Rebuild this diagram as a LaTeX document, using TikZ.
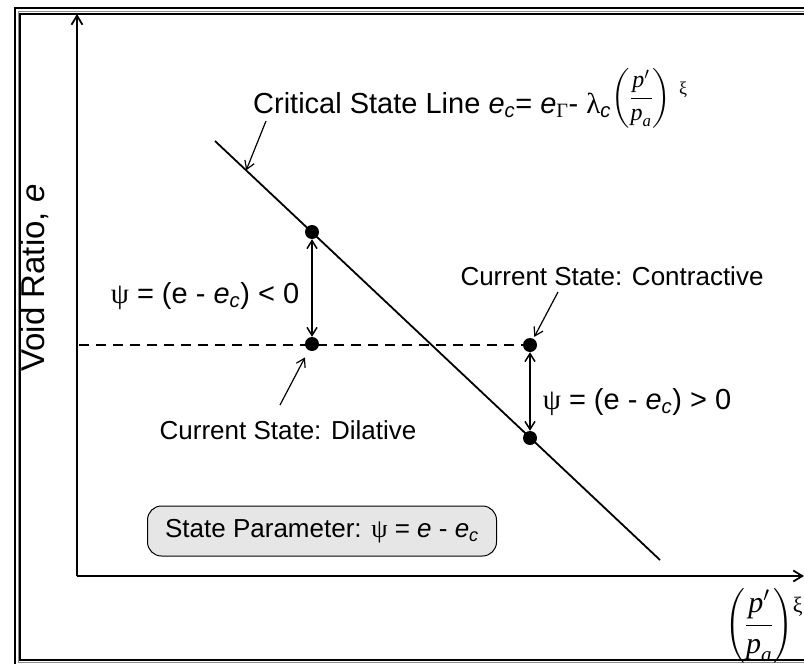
\RequirePackage{fix-cm}
\documentclass[tikz,border=0pt]{standalone}
\usepackage{amsmath}
\usepackage{fontspec}
\setmainfont{Liberation Sans}
\newfontfamily\serif{Liberation Serif}
\usetikzlibrary{arrows.meta, positioning, calc}
\definecolor{boxgray}{RGB}{230,230,230}
\definecolor{framegray}{RGB}{140,140,140}
\newcommand{\ec}{\textit{e}\textsubscript{\textit{c}}}
\newcommand{\psisym}{{\serif ψ}}
\newcommand{\pratio}{\left(\dfrac{\text{\serif\itshape p}'}{\text{\serif\itshape p}_{\text{\serif\itshape a}}}\right)}

\begin{document}
\begin{tikzpicture}[x=1pt, y=-1pt,
  big/.style={font=\fontsize{29}{33}\selectfont},
  mid/.style={font=\fontsize{26}{30}\selectfont},
  statedot/.style={circle, fill=black, inner sep=0pt, minimum size=14pt},
  pointer/.style={-{Straight Barb[length=8pt,width=10pt]}, line width=1.2pt},
  gap/.style={{Straight Barb[length=8pt,width=10pt]}-{Straight Barb[length=8pt,width=10pt]}, line width=1.5pt},
  axis/.style={-{Straight Barb[length=9pt,width=11pt]}, line width=1.8pt},
  dashline/.style={dash pattern=on 10pt off 7pt, line width=1.3pt}]
  \useasboundingbox (0,0) rectangle (804,664);
  \clip (0,0) rectangle (804,664);
  % Frame
  \draw[line width=2.5pt] (15,8) rectangle (830,690);
  \draw[framegray, line width=1pt] (18,11.5) rectangle (822,662.5);
  \draw[line width=2pt] (20,13.5) rectangle (820,660);
  % Axes
  \coordinate (origin) at (77,576);
  \coordinate (ytop) at (77,14);
  \coordinate (xend) at (804,576);
  \draw[axis] (origin) -- (ytop);
  \draw[axis] (origin) -- (xend);
  \node[rotate=90, font=\fontsize{33}{37}\selectfont] (ylabel) at (35,278) {Void Ratio, \textit{e}};
  \node[anchor=south east, inner sep=0pt, font=\fontsize{30}{34}\selectfont] (xlabel) at (803,663)
    {$\pratio$\raisebox{20pt}{\fontsize{22}{24}\selectfont\serif ξ}};
  % Critical state line
  \coordinate (cslA) at (215,141);
  \coordinate (cslB) at (660,560);
  \draw[line width=1.8pt] (cslA) -- coordinate[pos=0.07] (cslpt) (cslB);
  \node[big, anchor=base west, inner sep=0pt] (csllabel) at (253,113)
    {Critical State Line \ec= \textit{e}\textsubscript{\serif Γ}- {\serif λ}\textsubscript{\textit{c}}\raisebox{9pt}{\fontsize{24}{27}\selectfont$\pratio$}\hspace{8pt}\raisebox{19pt}{\fontsize{18}{20}\selectfont\serif ξ}};
  \coordinate (csltail) at (266,121);
  \draw[pointer] (csltail) -- (cslpt);
  % States
  \node[statedot] (onA) at (312,232) {};
  \node[statedot] (dil) at (312,344) {};
  \node[statedot] (con) at (530,345) {};
  \node[statedot] (onB) at (530,438) {};
  \coordinate (dashstart) at (79,345);
  \draw[dashline] (dashstart) -- (con.center);
  \draw[gap] (onA) -- (dil);
  \draw[gap] (con) -- (onB);
  \node[big] (psineg) at (205,296) {\psisym{} = (e - \ec) < 0};
  \node[big] (psipos) at (637,402) {\psisym{} = (e - \ec) > 0};
  \node[mid] (conlabel) at (612,276) {Current State: Contractive};
  \node[mid] (dillabel) at (288,430) {Current State: Dilative};
  \coordinate (contail) at (558,292);
  \draw[pointer, shorten >=2pt] (contail) -- (con);
  \coordinate (diltail) at (280,405);
  \draw[pointer, shorten >=8pt] (diltail) -- (dil);
  % Parameter box
  \node[draw, fill=boxgray, rounded corners=14pt, minimum width=349pt, minimum height=50pt,
    line width=1pt, mid] (param) at (322,531) {State Parameter: \psisym{} = \textit{e} - \ec};
\end{tikzpicture}
\end{document}
